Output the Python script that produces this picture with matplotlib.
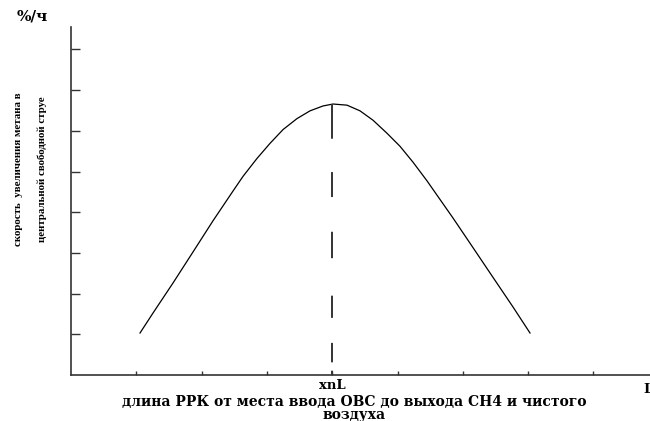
import matplotlib
matplotlib.use("Agg")
import matplotlib.pyplot as plt

# data
curve_x = [1.057, 1.256, 1.562, 1.868, 2.175, 2.481, 2.634, 2.848, 3.047,
           3.247, 3.461, 3.660, 3.859, 4.012, 4.227, 4.426, 4.625, 4.839,
           5.038, 5.237, 5.452, 5.600, 5.850, 6.156, 6.462, 6.769, 7.029]
curve_y = [1.032, 1.523, 2.260, 3.022, 3.790, 4.520, 4.880, 5.320, 5.690,
           6.030, 6.300, 6.490, 6.610, 6.658, 6.630, 6.490, 6.260, 5.940,
           5.620, 5.230, 4.770, 4.430, 3.857, 3.130, 2.400, 1.671, 1.032]
peak_x = 4.0
peak_y = 6.658
x_ticks = [1, 2, 3, 4, 5, 6, 7, 8]
x_ticklabels = ["", "", "", "xnL", "", "", "", ""]
y_ticks = [1, 2, 3, 4, 5, 6, 7, 8]
x_end_label = "L"
y_label_lines = ["скорость  увеличения метана в",
                 "центральной свободной струе"]
x_label_lines = ["длина РРК от места ввода ОВС до выхода СН4 и чистого",
                 "воздуха"]
unit_label = "%/ч"

W, H = 650, 421
fig = plt.figure(figsize=(W / 100, H / 100), dpi=100)
left_px, right_px, bottom_px, top_px = 71, 650, 375, 27
ax = fig.add_axes([left_px / W, (H - bottom_px) / H,
                   (right_px - left_px) / W, (bottom_px - top_px) / H])
xpx, ypx = 65.3, 40.7
ax.set_xlim(0, (right_px - left_px) / xpx)
ax.set_ylim(0, (bottom_px - top_px) / ypx)

ax.plot(curve_x, curve_y, color="black", lw=0.9, solid_joinstyle="round")
lw_d = 1.4
ax.plot([peak_x, peak_x], [peak_y, 0], color="#333333", lw=lw_d,
        dashes=[25 / lw_d, 24 / lw_d, 18 / lw_d, 25 / lw_d, 19 / lw_d,
                27 / lw_d, 16 / lw_d, 18 / lw_d, 14 / lw_d, 6 / lw_d])

for s in ["top", "right"]:
    ax.spines[s].set_visible(False)
for s in ["left", "bottom"]:
    ax.spines[s].set_color("#333333")
    ax.spines[s].set_linewidth(1.2)

ax.set_xticks(x_ticks)
ax.set_xticklabels(x_ticklabels, family="DejaVu Serif", fontweight="bold",
                   fontsize=9.5)
ax.set_yticks(y_ticks)
ax.set_yticklabels([])
ax.tick_params(axis="y", direction="in", length=6.5, width=1, color="#333333")
ax.tick_params(axis="x", direction="in", length=3, width=1, color="#333333",
               pad=3)

ax.text(ax.get_xlim()[1] - 0.03, -0.2, x_end_label, ha="center", va="top",
        family="DejaVu Serif", fontweight="bold", fontsize=9.5, clip_on=False)

fig.text(354 / W, 1 - 402 / H, x_label_lines[0], ha="center", va="center",
         family="DejaVu Serif", fontweight="bold", fontsize=10)
fig.text(354 / W, 1 - 415 / H, x_label_lines[1], ha="center", va="center",
         family="DejaVu Serif", fontweight="bold", fontsize=10)
fig.text(19 / W, 1 - 169 / H, y_label_lines[0], ha="center", va="center",
         rotation=90, family="Liberation Serif", fontweight="bold",
         fontsize=7.8)
fig.text(42 / W, 1 - 169 / H, y_label_lines[1], ha="center", va="center",
         rotation=90, family="Liberation Serif", fontweight="bold",
         fontsize=7.8)
fig.text(32 / W, 1 - 17 / H, unit_label, ha="center", va="center",
         family="DejaVu Serif", fontweight="bold", fontsize=11)

fig.savefig("out.png", dpi=100)
